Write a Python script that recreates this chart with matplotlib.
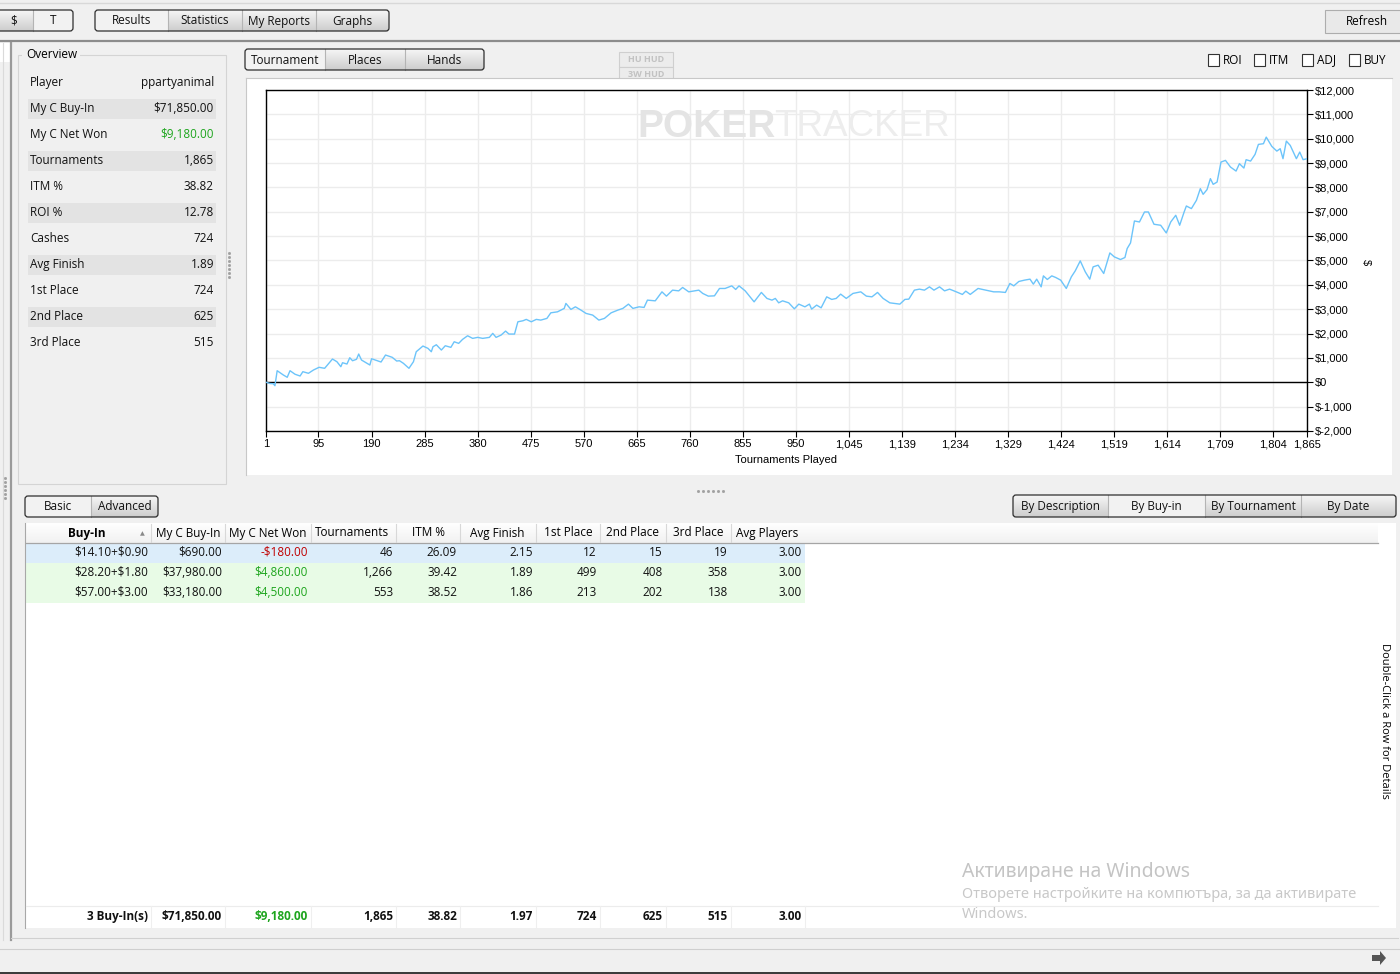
import numpy as np
import matplotlib
matplotlib.use("Agg")
import matplotlib.pyplot as plt
from matplotlib.patches import Rectangle, FancyBboxPatch, Polygon
from matplotlib.colors import LinearSegmentedColormap

plt.rcParams["text.parse_math"] = False

W, H = 1400, 974
UI_FONT = ["Open Sans", "DejaVu Sans"]
CHART_FONT = ["Liberation Sans", "DejaVu Sans"]

# cumulative net won
tournaments = [1, 8, 14, 17, 21, 32, 39, 44, 53, 62, 67, 77, 86, 96, 106, 120, 128, 135, 138, 146,
               151, 156, 163, 167, 172, 187, 190, 200, 207, 215, 227, 235, 240, 247, 257, 265, 270,
               282, 291, 297, 300, 306, 315, 322, 332, 338, 346, 353, 362, 371, 380, 389, 401, 407,
               413, 422, 430, 436, 446, 452, 461, 467, 476, 485, 493, 504, 511, 523, 535, 538, 547,
               555, 565, 574, 586, 597, 607, 619, 631, 640, 650, 658,
               669, 678, 684, 698, 710, 718, 729, 740, 747, 758, 776, 783, 793, 804, 813, 823, 835,
               842, 848, 859, 875, 888, 898, 907, 913, 919, 926, 937, 947, 955, 966, 974, 978, 987,
               995, 1005, 1014, 1022, 1030, 1040, 1052, 1066, 1076, 1086, 1096, 1106, 1118, 1136,
               1145, 1152, 1162, 1171, 1180, 1189, 1197, 1207, 1216, 1225, 1234, 1248, 1254, 1262,
               1276, 1290, 1304, 1314,
               1325, 1333, 1340, 1349, 1359, 1369, 1375, 1381, 1389, 1393, 1400, 1408, 1415, 1424,
               1434, 1443, 1450, 1459, 1468, 1476, 1482, 1491, 1501, 1512, 1520, 1531, 1539, 1543,
               1549, 1556, 1565, 1574, 1581, 1591, 1603, 1613, 1621, 1630, 1637, 1645, 1649, 1658,
               1667, 1674, 1679, 1686, 1692, 1697, 1704, 1711, 1719, 1728, 1738, 1744, 1752, 1756,
               1764, 1772, 1778, 1787, 1792, 1802, 1811, 1817, 1822, 1828, 1835, 1846, 1852, 1858, 1865]
net_won = [0, -50, -60, -140, 475, 300, 205, 475, 330, 258, 435, 369, 504, 615, 574, 955, 844, 640, 803, 750,
           1008, 885, 943, 1160, 914, 709, 967, 885, 832, 1119, 1025, 873, 885, 779, 574, 844, 1254,
           1488, 1393, 1254, 1459, 1541, 1324, 1500, 1434, 1664, 1598, 1762, 1910, 1803, 1844, 1803, 1844, 2008,
           1844, 1939, 2102, 1980, 1980, 2484, 2525, 2582, 2484, 2582, 2553, 2623, 2852, 2893, 3033, 3238, 2992,
           3098, 2963, 2828, 2758, 2553, 2623, 2852, 2963, 3033, 3209, 3033,
           3098, 3074, 3373, 3344, 3713, 3537, 3783, 3754, 3893, 3713, 3783, 3648, 3537, 3549, 3852, 3852, 3959,
           3811, 3959, 3754, 3303, 3689, 3443, 3373, 3443, 3262, 3344, 3262, 3016, 3209, 3098, 3209, 3004, 3168,
           3057, 3508, 3402, 3443, 3619, 3443, 3648, 3713, 3537, 3508, 3689, 3443, 3262, 3209,
           3402, 3414, 3783, 3824, 3783, 3918, 3783, 3918, 3754, 3824, 3742, 3607, 3742, 3607,
           3852, 3783, 3713, 3713,
           3689, 4057, 3959, 4139, 4193, 4234, 4029, 4234, 3918, 4369, 4221, 4369, 4303, 4193,
           3852, 4328, 4574, 4984, 4533, 4234, 4738, 4807, 4467, 5311, 5148, 5041, 5123, 5492,
           5721, 6623, 6582, 6992, 6992, 6488, 6447, 6131, 6582, 6857, 6447, 6992, 7238, 7131,
           7471, 7951, 7717, 7910, 8361, 8127, 8221, 9041, 9111, 8836, 8672, 8975, 8795, 9139,
           9082, 9357, 9767, 9795, 10066, 9684, 9492, 9590, 9180, 9902, 9725, 9180, 9451, 9139, 9180]

x_ticks = [1, 95, 190, 285, 380, 475, 570, 665, 760, 855, 950, 1045, 1139, 1234, 1329, 1424,
           1519, 1614, 1709, 1804, 1865]
y_ticks = [-2000, -1000, 0, 1000, 2000, 3000, 4000, 5000, 6000, 7000, 8000, 9000, 10000, 11000, 12000]

overview_labels = ["Player", "My C Buy-In", "My C Net Won", "Tournaments", "ITM %", "ROI %",
                   "Cashes", "Avg Finish", "1st Place", "2nd Place", "3rd Place"]
overview_values = ["ppartyanimal", "$71,850.00", "$9,180.00", "1,865", "38.82", "12.78",
                   "724", "1.89", "724", "625", "515"]

table_headers = ["Buy-In", "My C Buy-In", "My C Net Won", "Tournaments", "ITM %", "Avg Finish",
                 "1st Place", "2nd Place", "3rd Place", "Avg Players"]
buy_in = ["$14.10+$0.90", "$28.20+$1.80", "$57.00+$3.00"]
my_c_buy_in = ["$690.00", "$37,980.00", "$33,180.00"]
my_c_net_won = ["-$180.00", "$4,860.00", "$4,500.00"]
tourney_count = ["46", "1,266", "553"]
itm_pct = ["26.09", "39.42", "38.52"]
avg_finish = ["2.15", "1.89", "1.86"]
first_place = ["12", "499", "213"]
second_place = ["15", "408", "202"]
third_place = ["19", "358", "138"]
avg_players = ["3.00", "3.00", "3.00"]
totals = ["3 Buy-In(s)", "$71,850.00", "$9,180.00", "1,865", "38.82", "1.97", "724", "625", "515", "3.00"]

GREEN = "#1ea51e"
RED = "#c00000"


def gradient_box(ax, x0, y0, x1, y1, top="#f6f6f6", bottom="#cdcdcd"):
    grad = np.linspace(0, 1, 32).reshape(-1, 1)
    cmap = LinearSegmentedColormap.from_list("btn", [top, bottom])
    ax.imshow(grad, cmap=cmap, extent=(x0, x1, y1, y0), aspect="auto", zorder=1,
              interpolation="bilinear")


def button_group(ax, edges, y0, y1, labels, selected, fs=8.5):
    for i, lab in enumerate(labels):
        a, b = edges[i], edges[i + 1]
        if i == selected:
            ax.add_patch(Rectangle((a, y0), b - a, y1 - y0, fc="#f2f2f2", ec="none", zorder=1))
        else:
            gradient_box(ax, a, y0, b, y1)
        if i > 0:
            ax.plot([a, a], [y0, y1], color="#b4b4b4", lw=0.8, zorder=2)
        ax.text((a + b) / 2, (y0 + y1) / 2 + 0.5, lab, ha="center", va="center", fontsize=fs,
                family=UI_FONT, color="#111111", zorder=4)
    ax.add_patch(FancyBboxPatch((edges[0], y0), edges[-1] - edges[0], y1 - y0,
                                boxstyle="round,pad=0,rounding_size=3", fc="none",
                                ec="#2e2e2e", lw=0.9, zorder=3))


def dots(ax, xs, ys):
    ax.plot(xs, ys, ls="none", marker="s", ms=1.0, color="#a0a0a0")


fig = plt.figure(figsize=(W / 100, H / 100), dpi=100)
fig.patch.set_facecolor("#f0f0f0")
ui = fig.add_axes([0, 0, 1, 1])
ui.set_xlim(0, W)
ui.set_ylim(H, 0)
ui.axis("off")

# top toolbar
ui.plot([0, W], [3, 3], color="#d8d8d8", lw=1)
button_group(ui, [-5, 33, 73], 10, 31, ["$", "T"], 1)
button_group(ui, [95, 168, 242, 316, 389], 10, 31, ["Results", "Statistics", "My Reports", "Graphs"], 0)
ui.add_patch(Rectangle((1325, 10), 80, 23, fc="#e9e9e9", ec="#adadad", lw=0.8))
ui.text(1367, 21.5, "Refresh", ha="center", va="center", fontsize=8.5, family=UI_FONT)
ui.plot([0, W], [41, 41], color="#8c8c8c", lw=1.6)

# left frame
ui.add_patch(Rectangle((0, 43), 10, 19, fc="white", ec="none"))
ui.plot([3, 3], [43, 940], color="#dadada", lw=0.8)
ui.plot([11, 11], [43, 940], color="#9a9a9a", lw=1.6)
ui.plot([11, 1398], [938, 938], color="#d0d0d0", lw=0.8)
dots(ui, [5] * 6, list(range(478, 501, 4)))

# overview group box
ui.add_patch(Rectangle((18, 55), 208, 429, fc="none", ec="#d4d4d4", lw=0.8))
ui.add_patch(Rectangle((22, 47), 58, 14, fc="#f0f0f0", ec="none"))
ui.text(26, 54.5, "Overview", ha="left", va="center", fontsize=8.5, family=UI_FONT)
for i, (lab, val) in enumerate(zip(overview_labels, overview_values)):
    yc = 82.5 + 26 * i
    if i % 2 == 1:
        ui.add_patch(Rectangle((28, yc - 10), 188, 20, fc="#e3e3e3", ec="none"))
    ui.text(30, yc, lab, ha="left", va="center", fontsize=8.5, family=UI_FONT, color="#111111")
    ui.text(214, yc, val, ha="right", va="center", fontsize=8.5, family=UI_FONT,
            color=GREEN if lab == "My C Net Won" else "#111111")
dots(ui, [229] * 7, list(range(253, 279, 4)))

# chart panel
button_group(ui, [245, 325, 405, 484], 49, 70, ["Tournament", "Places", "Hands"], 0)
for k, lab in enumerate(["HU HUD", "3W HUD"]):
    ui.add_patch(Rectangle((619, 52 + 15 * k), 54, 15, fc="#ececec", ec="#cfcfcf", lw=0.8))
    ui.text(646, 59.5 + 15 * k, lab, ha="center", va="center", fontsize=6.5, family=UI_FONT,
            color="#c2c2c2", weight="bold")
for bx, lab in zip([1208, 1254, 1302, 1349], ["ROI", "ITM", "ADJ", "BUY"]):
    ui.add_patch(Rectangle((bx, 54), 11, 12, fc="white", ec="#333333", lw=0.8))
    ui.text(bx + 15, 60, lab, ha="left", va="center", fontsize=8.5, family=UI_FONT)
ui.add_patch(Rectangle((246, 78), 1146, 397, fc="white", ec="none"))
ui.plot([246, 1392], [78, 78], color="#c8c8c8", lw=0.8)
ui.plot([246, 246], [78, 475], color="#c8c8c8", lw=0.8)
ui.text(786, 460, "Tournaments Played", ha="center", va="center", fontsize=8, family=CHART_FONT)
ui.text(1366, 262, "$", ha="center", va="center", fontsize=8, family=CHART_FONT, rotation=-90)

ax = fig.add_axes([266 / W, 1 - 431 / H, (1307 - 266) / W, (431 - 90) / H])
ax.set_facecolor("white")
ax.set_axisbelow(True)
ax.grid(color="#ececec", lw=1)
ax.plot(tournaments, net_won, color="#6cc4fa", lw=1.0, zorder=3)
ax.axhline(0, color="black", lw=1, zorder=2)
ax.set_xlim(1, 1865)
ax.set_ylim(-2000, 12000)
ax.set_xticks(x_ticks)
ax.set_xticklabels([f"{t:,}" for t in x_ticks], family=CHART_FONT)
ax.set_yticks(y_ticks)
ax.set_yticklabels([f"${v:,}" for v in y_ticks], family=CHART_FONT)
ax.yaxis.tick_right()
ax.tick_params(length=4, width=0.8, labelsize=8, pad=2, color="black")
for sp in ax.spines.values():
    sp.set_color("black")
    sp.set_linewidth(1)
ax.text(637, 127, "POKER", transform=ui.transData, ha="left", va="center", fontsize=28,
        family=CHART_FONT, weight="bold", color="#e4e4e4", zorder=1)
ax.text(774, 127, "TRACKER", transform=ui.transData, ha="left", va="center", fontsize=26.5,
        family=CHART_FONT, color="#ededed", zorder=1)

# splitter
dots(ui, list(range(698, 725, 5)), [491] * 6)

# bottom table section
button_group(ui, [25, 91, 158], 496, 517, ["Basic", "Advanced"], 0)
button_group(ui, [1013, 1108, 1205, 1301, 1396], 495, 517,
             ["By Description", "By Buy-in", "By Tournament", "By Date"], 1)
ui.add_patch(Rectangle((25, 523), 1371, 405, fc="white", ec="none"))
ui.plot([25, 25], [523, 928], color="#a8a8a8", lw=0.8)
gradient_box(ui, 26, 523, 1378, 543, top="#ffffff", bottom="#f1f1f1")
ui.plot([26, 1378], [543, 543], color="#a5a5a5", lw=0.9)

col_edges = [25, 151, 225, 311, 396, 460, 536, 600, 666, 731, 805]
header_x = [87, 188, 268, 352, 428, 497, 568, 632, 698, 767]
for i, lab in enumerate(table_headers):
    ui.text(header_x[i], 533, lab, ha="center", va="center", fontsize=8.5, family=UI_FONT,
            weight="bold" if i == 0 else "normal")
    if i > 0:
        ui.plot([col_edges[i], col_edges[i]], [524, 542], color="#d8d8d8", lw=0.8)
ui.text(142, 534, "▲", ha="center", va="center", fontsize=4.5, color="#888888")

columns = [buy_in, my_c_buy_in, my_c_net_won, tourney_count, itm_pct, avg_finish,
           first_place, second_place, third_place, avg_players]
row_bg = ["#dcedfa", "#e8fbe6", "#e8fbe6"]
for r in range(3):
    yc = 552.5 + 20 * r
    ui.add_patch(Rectangle((26, yc - 10), 779, 20, fc=row_bg[r], ec="none"))
    for c, col in enumerate(columns):
        color = "#111111"
        if c == 2:
            color = RED if col[r].startswith("-") else GREEN
        ui.text(col_edges[c + 1] - 3, yc, col[r], ha="right", va="center", fontsize=8.5,
                family=UI_FONT, color=color)

ui.plot([26, 1378], [906, 906], color="#ececec", lw=0.8)
for c, val in enumerate(totals):
    ui.text(col_edges[c + 1] - 3, 916.5, val, ha="right", va="center", fontsize=8.5,
            family=UI_FONT, weight="bold", color=GREEN if c == 2 else "#111111")
    ui.plot([col_edges[c + 1], col_edges[c + 1]], [906, 927], color="#efefef", lw=0.8)

ui.text(1385, 721, "Double-Click a Row for Details", ha="center", va="center", rotation=-90,
        fontsize=8, family=UI_FONT)

# windows activation watermark
ui.text(962, 872, "Активиране на Windows", ha="left", va="center", fontsize=14,
        family=["Noto Sans", "DejaVu Sans"], color="#c4c4c4")
ui.text(962, 895, "Отворете настройките на компютъра, за да активирате", ha="left", va="center",
        fontsize=10.5, family=["Noto Sans", "DejaVu Sans"], color="#c8c8c8")
ui.text(962, 914, "Windows.", ha="left", va="center", fontsize=10.5,
        family=["Noto Sans", "DejaVu Sans"], color="#c8c8c8")

# status bar
ui.plot([0, W], [949, 949], color="#cfcfcf", lw=0.8)
ui.add_patch(Polygon([[1372, 955], [1380, 955], [1380, 951], [1386, 958], [1380, 965],
                      [1380, 961], [1372, 961]], closed=True, fc="#555555", ec="none"))
ui.add_patch(Rectangle((0, 972), W, 2, fc="#3c3c3c", ec="none"))

fig.savefig("out.png", dpi=100, facecolor=fig.get_facecolor())
